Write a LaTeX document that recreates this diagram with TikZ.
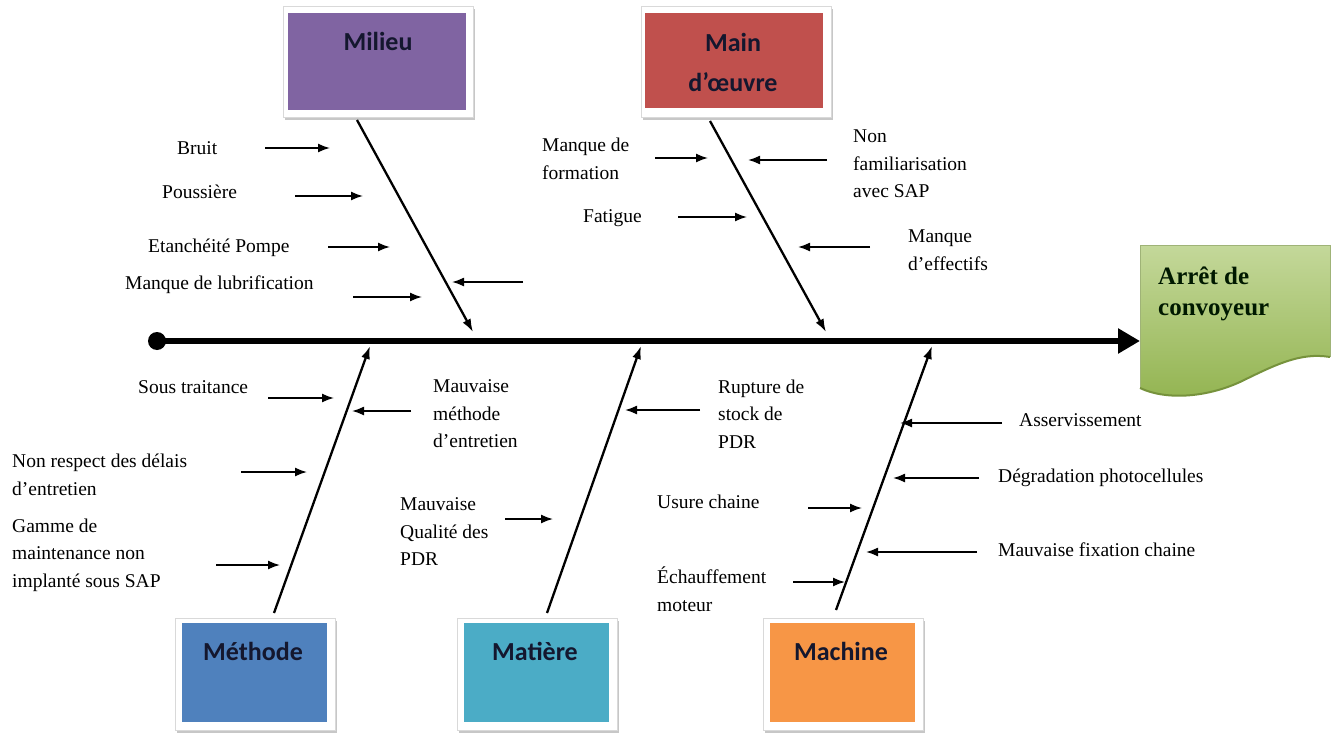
\documentclass[tikz,border=0pt]{standalone}
\usepackage{fontspec}
\setmainfont{Liberation Serif}
\newfontfamily\catfont{Carlito}
\usetikzlibrary{arrows.meta,shadows}

\definecolor{milieucol}{HTML}{8064A2}
\definecolor{maincol}{HTML}{C0504D}
\definecolor{methodecol}{HTML}{4F81BD}
\definecolor{matierecol}{HTML}{4BACC6}
\definecolor{machinecol}{HTML}{F79646}
\definecolor{effecttop}{HTML}{C4D89A}
\definecolor{effectbot}{HTML}{93B451}
\definecolor{effectedge}{HTML}{76923C}
\definecolor{catink}{HTML}{14172E}

% one small cause arrow: name, start x, end x, y
\newcommand\causearrow[4]{%
  \coordinate (#1-s) at (#2,#4);
  \coordinate (#1-e) at (#3,#4);
  \draw[cause] (#1-s) -- (#1-e);}

\begin{document}
\begin{tikzpicture}[x=1pt,y=-1pt,
  cause/.style={line width=1.6pt,-{Latex[length=12pt,width=9pt]}},
  bone/.style={line width=2.3pt,-{Latex[length=13pt,width=9pt]}},
  txt/.style={font=\fontsize{19.5}{27.5}\selectfont,inner sep=0pt,align=left,anchor=west},
  catframe/.style={fill=white,draw=gray!30,line width=0.5pt,inner sep=0pt,
    drop shadow={shadow xshift=1.5pt,shadow yshift=-3pt,opacity=0.55,fill=gray!80}},
  catfill/.style={inner sep=0pt,draw=none},
  catlabel/.style={font=\catfont\bfseries\fontsize{26}{40}\selectfont,text=catink,
    align=center,inner sep=0pt},
]
\useasboundingbox (0,0) rectangle (1336,733);
\fill[white] (0,0) rectangle (1336,733);

% ---- category boxes (top) ----
\node[catframe,minimum width=190pt,minimum height=111pt] (milieu-frame) at (378,62) {};
\node[catfill,fill=milieucol,minimum width=178pt,minimum height=97pt] (milieu) at (377,61.5) {};
\node[catlabel] (milieu-txt) at (378,41) {Milieu};

\node[catframe,minimum width=190pt,minimum height=111pt] (main-frame) at (736,62) {};
\node[catfill,fill=maincol,minimum width=178pt,minimum height=95pt] (main) at (734,61) {};
\node[catlabel] (main-txt) at (733,62) {Main\\d’œuvre};

% ---- category boxes (bottom) ----
\node[catframe,minimum width=160pt,minimum height=112pt] (methode-frame) at (255,674) {};
\node[catfill,fill=methodecol,minimum width=145pt,minimum height=99pt] (methode) at (254.5,672.5) {};
\node[catlabel] (methode-txt) at (253,651) {Méthode};

\node[catframe,minimum width=160pt,minimum height=112pt] (matiere-frame) at (537,674) {};
\node[catfill,fill=matierecol,minimum width=145pt,minimum height=99pt] (matiere) at (536.5,672.5) {};
\node[catlabel] (matiere-txt) at (535,651) {Matière};

\node[catframe,minimum width=160pt,minimum height=112pt] (machine-frame) at (843,674) {};
\node[catfill,fill=machinecol,minimum width=145pt,minimum height=99pt] (machine) at (842.5,672.5) {};
\node[catlabel] (machine-txt) at (841,651) {Machine};

% ---- effect box ----
\shade[top color=effecttop,bottom color=effectbot]
  (1140,245) -- (1330,245) -- (1330,357)
  .. controls (1300,352) and (1275,365) .. (1240,382)
  .. controls (1205,398) and (1165,400) .. (1140,388) -- cycle;
\draw[effectedge!70,line width=0.6pt]
  (1140,388) -- (1140,245) -- (1330,245) -- (1330,357);
\draw[effectedge,line width=2pt]
  (1330,357) .. controls (1300,352) and (1275,365) .. (1240,382)
  .. controls (1205,398) and (1165,400) .. (1140,388);
\node[anchor=west,font=\bfseries\fontsize{25}{31}\selectfont,align=left,inner sep=0pt,
  text=black!90!green] (effect) at (1158,294) {Arrêt de\\convoyeur};

% ---- spine ----
\node[circle,fill=black,minimum size=18pt,inner sep=0pt] (tail) at (157,341) {};
\coordinate (head) at (1140,341);
\draw[line width=6pt,-{Triangle[length=22pt,width=24pt]}] (tail.center) -- (head);

% ---- bones ----
\coordinate (milieu-b) at (357,120);  \coordinate (milieu-t) at (473,332);
\coordinate (main-b) at (710,121);    \coordinate (main-t) at (826,332);
\coordinate (methode-b) at (274,613); \coordinate (methode-t) at (370,346);
\coordinate (matiere-b) at (547,613); \coordinate (matiere-t) at (641,346);
\coordinate (machine-b) at (836,610); \coordinate (machine-t) at (932,346);
\draw[bone] (milieu-b) -- (milieu-t);
\draw[bone] (main-b) -- (main-t);
\draw[bone] (methode-b) -- (methode-t);
\draw[bone] (matiere-b) -- (matiere-t);
\draw[bone] (machine-b) -- (machine-t);

% ---- Milieu causes ----
\node[txt] (bruit) at (177,148) {Bruit};
\node[txt] (poussiere) at (162,192) {Poussière};
\node[txt] (etancheite) at (148,248) {Etanchéité Pompe};
\node[txt] (lubrif) at (125,285) {Manque de lubrification};
\causearrow{a-bruit}{265}{330}{148}
\causearrow{a-poussiere}{295}{363}{196}
\causearrow{a-etancheite}{328}{390}{247}
\causearrow{a-lubrif}{353}{422}{297}
\causearrow{a-milieu}{523}{452}{282}

% ---- Main d'oeuvre causes ----
\node[txt] (formation) at (542,159) {Manque de\\formation};
\node[txt] (familiar) at (853,164) {Non\\familiarisation\\avec SAP};
\node[txt] (fatigue) at (583,218) {Fatigue};
\node[txt] (effectifs) at (908,250) {Manque\\d’effectifs};
\causearrow{a-formation}{655}{708}{158}
\causearrow{a-familiar}{827}{748}{160}
\causearrow{a-fatigue}{678}{747}{217}
\causearrow{a-effectifs}{870}{798}{247}

% ---- Methode causes ----
\node[txt] (soustrait) at (138,387) {Sous traitance};
\node[txt] (methentr) at (433,414) {Mauvaise\\méthode\\d’entretien};
\node[txt] (delais) at (12,475) {Non respect des délais\\d’entretien};
\node[txt] (gamme) at (12,555) {Gamme de\\maintenance non\\implanté sous SAP};
\causearrow{a-soustrait}{268}{334}{398}
\causearrow{a-methentr}{411}{352}{411}
\causearrow{a-delais}{241}{307}{472}
\causearrow{a-gamme}{216}{280}{565}

% ---- Matiere causes ----
\node[txt] (qualite) at (400,532) {Mauvaise\\Qualité des\\PDR};
\node[txt] (rupture) at (718,414) {Rupture de\\stock de\\PDR};
\causearrow{a-qualite}{505}{553}{519}
\causearrow{a-rupture}{700}{625}{410}

% ---- Machine causes ----
\node[txt] (asserv) at (1019,420) {Asservissement};
\node[txt] (photo) at (998,478) {Dégradation photocellules};
\node[txt] (usure) at (657,502) {Usure chaine};
\node[txt] (fixation) at (998,550) {Mauvaise fixation chaine};
\node[txt] (echauff) at (657,589) {Échauffement\\moteur};
\causearrow{a-asserv}{1002}{900}{423}
\causearrow{a-photo}{979}{893}{478}
\causearrow{a-usure}{808}{862}{508}
\causearrow{a-fixation}{977}{866}{552}
\causearrow{a-echauff}{793}{845}{582}
\end{tikzpicture}
\end{document}
